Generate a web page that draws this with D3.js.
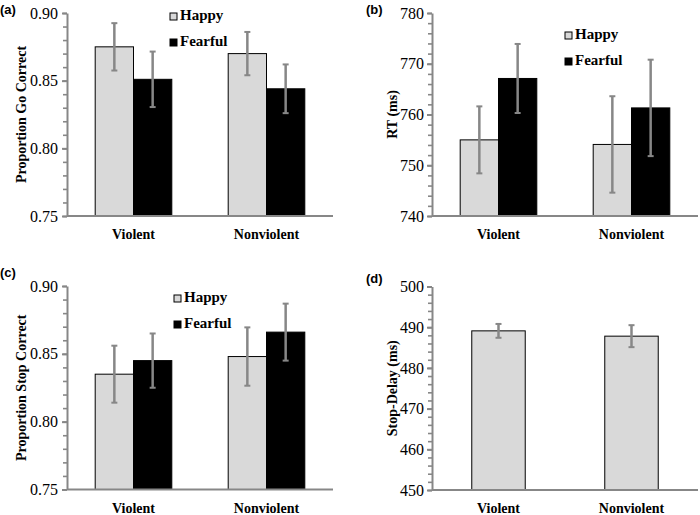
<!DOCTYPE html>
<html>
<head>
<meta charset="utf-8">
<script src="https://cdn.jsdelivr.net/npm/d3@7/dist/d3.min.js"></script>
<style>
  body { margin: 0; background: #fff; }
  svg { display: block; }
  .tick text { font-family: "Liberation Serif", serif; font-size: 16px; fill: #000; }
  .ytitle, .xlab, .leg { font-family: "Liberation Serif", serif; font-weight: bold; fill: #000; }
  .plab { font-family: "Liberation Sans", Arial, sans-serif; font-weight: bold; font-size: 13px; }
</style>
</head>
<body>
<script>
//categories and series
var categories = ["Violent", "Nonviolent"];
var series = ["Happy", "Fearful"];

//(a) proportion go correct
var goHappy = [0.875, 0.870],
    goFearful = [0.851, 0.844],
    goHappyErr = [0.0175, 0.016],
    goFearfulErr = [0.0205, 0.018];

//(b) reaction time
var rtHappy = [755.0, 754.1],
    rtFearful = [767.1, 761.3],
    rtHappyErr = [6.6, 9.5],
    rtFearfulErr = [6.8, 9.5];

//(c) proportion stop correct
var stopHappy = [0.835, 0.848],
    stopFearful = [0.845, 0.866],
    stopHappyErr = [0.021, 0.0215],
    stopFearfulErr = [0.020, 0.021];

//(d) stop delay
var delayMean = [489.1, 487.8],
    delayErr = [1.7, 2.7];

var fills = { Happy: "#d9d9d9", Fearful: "#000000" };
var axisColor = "#878787";

var svg = d3.select("body").append("svg")
    .attr("width", 700)
    .attr("height", 515);

function drawPanel(o){
    var g = svg.append("g");

    var y = d3.scaleLinear().domain(o.domain).range([o.y1, o.y0]);
    var x = d3.scaleBand().domain(categories).range([o.x0, o.x1])
        .paddingInner(o.pad).paddingOuter(o.pad / 2);
    var xs = d3.scaleBand().domain(o.series).range([0, x.bandwidth()]);

    //rows of data
    var rows = [];
    categories.forEach(function(c, i){
        o.series.forEach(function(s){
            rows.push({ cat: c, s: s, v: o.values[s][i], e: o.errors[s][i] });
        });
    });

    //minor ticks
    g.append("g")
        .attr("transform", "translate(" + o.x0 + ",0)")
        .call(d3.axisLeft(y).tickValues(d3.range(o.domain[0], o.domain[1] + o.minor / 2, o.minor))
            .tickSize(4).tickFormat(""))
        .call(function(a){
            a.select(".domain").remove();
            a.selectAll("line").attr("stroke", axisColor).attr("stroke-width", 1.6);
        });

    //major axis
    g.append("g")
        .attr("transform", "translate(" + o.x0 + ",0)")
        .call(d3.axisLeft(y).tickValues(o.ticks).tickSize(5).tickSizeOuter(0)
            .tickPadding(o.tickPad).tickFormat(o.fmt))
        .call(function(a){
            a.select(".domain").attr("stroke", axisColor).attr("stroke-width", 2);
            a.selectAll("line").attr("stroke", axisColor).attr("stroke-width", 2);
        });

    //bars
    g.selectAll(".bar").data(rows).enter().append("rect")
        .attr("x", function(d){ return x(d.cat) + xs(d.s); })
        .attr("width", xs.bandwidth())
        .attr("y", function(d){ return y(d.v); })
        .attr("height", function(d){ return y(o.domain[0]) - y(d.v); })
        .attr("fill", function(d){ return fills[d.s]; })
        .attr("stroke", "#000")
        .attr("stroke-width", 1);

    //x axis line
    g.append("line")
        .attr("x1", o.x0).attr("x2", o.x1)
        .attr("y1", o.y1).attr("y2", o.y1)
        .attr("stroke", axisColor).attr("stroke-width", 2);

    //error bars
    var eb = g.selectAll(".err").data(rows).enter().append("g")
        .attr("transform", function(d){
            return "translate(" + (x(d.cat) + xs(d.s) + xs.bandwidth() / 2) + ",0)";
        });
    eb.append("line")
        .attr("y1", function(d){ return y(d.v + d.e); })
        .attr("y2", function(d){ return y(d.v - d.e); })
        .attr("stroke", axisColor).attr("stroke-width", 2.5);
    eb.selectAll(".cap").data(function(d){ return [d.v + d.e, d.v - d.e]; })
        .enter().append("line")
        .attr("x1", -3).attr("x2", 3)
        .attr("y1", function(v){ return y(v); })
        .attr("y2", function(v){ return y(v); })
        .attr("stroke", axisColor).attr("stroke-width", 2);

    //category labels
    g.selectAll(".xlab").data(categories).enter().append("text")
        .attr("class", "xlab")
        .attr("x", function(c){ return x(c) + x.bandwidth() / 2; })
        .attr("y", o.y1 + 23)
        .attr("text-anchor", "middle")
        .style("font-size", "14px")
        .text(function(c){ return c; });

    //y title
    g.append("text")
        .attr("class", "ytitle")
        .attr("transform", "translate(" + o.titleX + "," + ((o.y0 + o.y1) / 2) + ") rotate(-90)")
        .attr("text-anchor", "middle")
        .attr("dy", "0.35em")
        .style("font-size", "14px")
        .text(o.title);

    //panel label
    g.append("text")
        .attr("class", "plab")
        .attr("x", o.labX).attr("y", o.labY)
        .text(o.label);

    //legend
    if (o.legend){
        var lg = g.selectAll(".lg").data(o.series).enter().append("g")
            .attr("transform", function(d, i){
                return "translate(" + o.legend[0] + "," + (o.legend[1] + i * 26) + ")";
            });
        lg.append("rect")
            .attr("x", 0).attr("y", -7).attr("width", 7).attr("height", 7)
            .attr("fill", function(d){ return fills[d]; })
            .attr("stroke", "#000").attr("stroke-width", 1);
        lg.append("text")
            .attr("class", "leg")
            .attr("x", 10).attr("y", 0)
            .style("font-size", "15px")
            .text(function(d){ return d; });
    }
}

var fmt2 = d3.format(".2f");

drawPanel({
    label: "(a)", labX: 0, labY: 14,
    x0: 67, x1: 333, y0: 13, y1: 216,
    domain: [0.75, 0.90], ticks: [0.75, 0.80, 0.85, 0.90], minor: 0.01,
    fmt: fmt2, tickPad: 4, pad: 0.424,
    series: series,
    values: { Happy: goHappy, Fearful: goFearful },
    errors: { Happy: goHappyErr, Fearful: goFearfulErr },
    title: "Proportion Go Correct", titleX: 21,
    legend: [170, 20]
});

drawPanel({
    label: "(b)", labX: 366, labY: 14,
    x0: 432, x1: 698, y0: 13, y1: 216,
    domain: [740, 780], ticks: [740, 750, 760, 770, 780], minor: 2,
    fmt: d3.format("d"), tickPad: 3, pad: 0.424,
    series: series,
    values: { Happy: rtHappy, Fearful: rtFearful },
    errors: { Happy: rtHappyErr, Fearful: rtFearfulErr },
    title: "RT (ms)", titleX: 392,
    legend: [565, 39]
});

drawPanel({
    label: "(c)", labX: 0, labY: 277,
    x0: 67, x1: 333, y0: 286, y1: 489.5,
    domain: [0.75, 0.90], ticks: [0.75, 0.80, 0.85, 0.90], minor: 0.01,
    fmt: fmt2, tickPad: 4, pad: 0.424,
    series: series,
    values: { Happy: stopHappy, Fearful: stopFearful },
    errors: { Happy: stopHappyErr, Fearful: stopFearfulErr },
    title: "Proportion Stop Correct", titleX: 21,
    legend: [174, 302]
});

drawPanel({
    label: "(d)", labX: 366, labY: 283,
    x0: 432, x1: 698, y0: 286.5, y1: 490,
    domain: [450, 500], ticks: [450, 460, 470, 480, 490, 500], minor: 2,
    fmt: d3.format("d"), tickPad: 3, pad: 0.598,
    series: ["Happy"],
    values: { Happy: delayMean },
    errors: { Happy: delayErr },
    title: "Stop-Delay (ms)", titleX: 392,
    legend: null
});
</script>
</body>
</html>
